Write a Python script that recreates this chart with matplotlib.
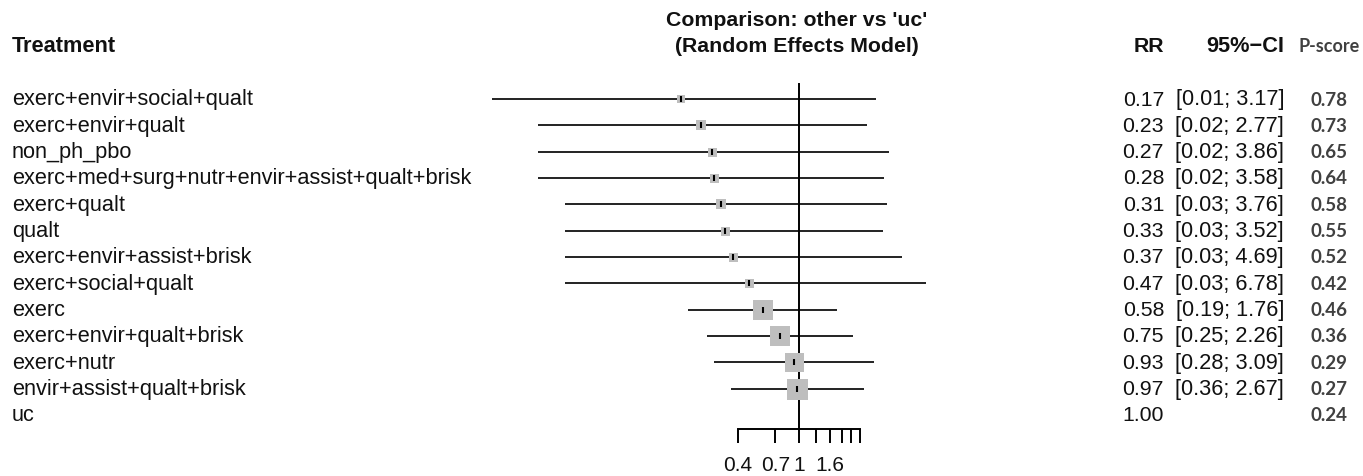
import matplotlib.pyplot as plt
import matplotlib.transforms as mtransforms
from matplotlib.ticker import NullLocator

# data
treatments = ['exerc+envir+social+qualt', 'exerc+envir+qualt', 'non_ph_pbo',
              'exerc+med+surg+nutr+envir+assist+qualt+brisk', 'exerc+qualt', 'qualt',
              'exerc+envir+assist+brisk', 'exerc+social+qualt', 'exerc',
              'exerc+envir+qualt+brisk', 'exerc+nutr', 'envir+assist+qualt+brisk', 'uc']
rr = [0.17, 0.23, 0.27, 0.28, 0.31, 0.33, 0.37, 0.47, 0.58, 0.75, 0.93, 0.97, 1.00]
ci_low = [0.01, 0.02, 0.02, 0.02, 0.03, 0.03, 0.03, 0.03, 0.19, 0.25, 0.28, 0.36, None]
ci_high = [3.17, 2.77, 3.86, 3.58, 3.76, 3.52, 4.69, 6.78, 1.76, 2.26, 3.09, 2.67, None]
pscore = [0.78, 0.73, 0.65, 0.64, 0.58, 0.55, 0.52, 0.42, 0.46, 0.36, 0.29, 0.27, 0.24]
# relative study weight (drives box size)
weight = [8, 10, 9, 9, 10, 9, 9, 9, 20, 20, 19, 21, 0]

axis_ticks = [0.4, 0.7, 1.0, 1.3, 1.6, 1.9, 2.2, 2.5]
axis_labels = ['0.4', '0.7', '1', '', '1.6', '', '', '']

W, H = 1363, 477
fig = plt.figure(figsize=(W / 100, H / 100), dpi=100)
plt.rcParams['font.family'] = ['Liberation Sans', 'DejaVu Sans']

# forest panel: log x, 1 at x=799px, ~66.6 px per ln unit
ax = fig.add_axes([446 / W, 0, 491.5 / W, 1])
ax.set_xscale('log')
ax.set_xlim(0.005, 8)
row_h = 26.33
ax.set_ylim((H - 100) / row_h, -100 / row_h)

n = len(treatments)
for i in range(n):
    if ci_low[i] is not None:
        ax.plot([ci_low[i], ci_high[i]], [i, i], color='#222222', lw=1.4, solid_capstyle='butt', zorder=2)
    if weight[i] > 0:
        ax.plot(rr[i], i, marker='s', markersize=weight[i] * 0.72, color='#bebebe',
                markeredgewidth=0, zorder=3)
        ax.plot(rr[i], i, marker='|', markersize=5, color='black', markeredgewidth=1.5, zorder=4)

axis_row = (430 - 100) / row_h
ax.plot([1, 1], [(85 - 100) / row_h, axis_row], color='black', lw=1.4, zorder=2)

for s in ['top', 'left', 'right']:
    ax.spines[s].set_visible(False)
ax.spines['bottom'].set_position(('data', axis_row))
ax.spines['bottom'].set_bounds(axis_ticks[0], axis_ticks[-1])
ax.spines['bottom'].set_linewidth(1.4)
ax.set_xticks(axis_ticks, axis_labels)
ax.xaxis.set_minor_locator(NullLocator())
ax.tick_params(axis='x', length=10, width=1.4, pad=9, labelsize=15, labelcolor='#111111')
ax.set_yticks([])
ax.patch.set_alpha(0)

# text columns: x in figure fraction, y in rows
tr = mtransforms.blended_transform_factory(fig.transFigure, ax.transData)
txt = '#111111'
fs = 15.7
pfont = ['Lato', 'DejaVu Sans']
for i in range(n):
    ax.text(12 / W, i, treatments[i], transform=tr, ha='left', va='center', fontsize=fs, color=txt)
    ax.text(1164 / W, i, f'{rr[i]:.2f}', transform=tr, ha='right', va='center', fontsize=15.3, color=txt)
    if ci_low[i] is not None:
        ax.text(1284 / W, i, f'[{ci_low[i]:.2f}; {ci_high[i]:.2f}]', transform=tr,
                ha='right', va='center', fontsize=fs, color=txt)
    ax.text(1329 / W, i, f'{pscore[i]:.2f}', transform=tr, ha='center', va='center',
            fontsize=13.5, fontweight='bold', color='#404040', family=pfont)

# headers
hy = 1 - 47 / H
fig.text(12 / W, hy, 'Treatment', ha='left', va='center', fontsize=fs, fontweight='bold', color=txt)
fig.text(1164 / W, hy, 'RR', ha='right', va='center', fontsize=15.3, fontweight='bold', color=txt)
fig.text(1284 / W, hy, '95%\u2212CI', ha='right', va='center', fontsize=fs, fontweight='bold', color=txt)
fig.text(1329 / W, hy, 'P-score', ha='center', va='center', fontsize=13, fontweight='bold',
         color='#404040', family=pfont)
fig.text(797 / W, 1 - 20 / H, "Comparison: other vs 'uc'", ha='center', va='center',
         fontsize=15.3, fontweight='bold', color=txt)
fig.text(797 / W, hy, '(Random Effects Model)', ha='center', va='center',
         fontsize=15.3, fontweight='bold', color=txt)

fig.savefig('out.png', dpi=100)
